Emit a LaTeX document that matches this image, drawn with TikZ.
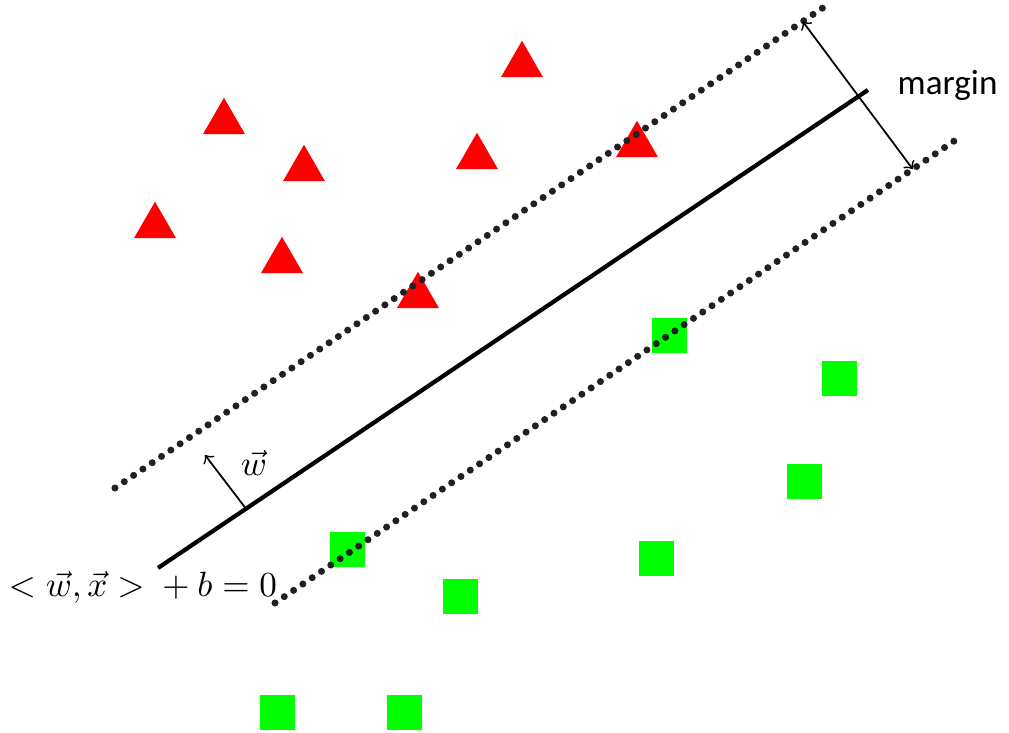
\documentclass[tikz,border=0pt]{standalone}
\usepackage{amsmath}
\usepackage{fontspec}
\newfontfamily\labelfont{Carlito}
\usetikzlibrary{shapes.geometric,calc}
\definecolor{svmRed}{HTML}{FF0000}
\definecolor{svmGreen}{HTML}{00FF00}
\definecolor{svmDot}{HTML}{202020}

\begin{document}
\begin{tikzpicture}[
  redtri/.style={regular polygon,regular polygon sides=3,fill=svmRed,inner sep=0pt,minimum size=0.485cm},
  greensq/.style={rectangle,fill=svmGreen,inner sep=0pt,minimum size=0.35cm},
  marginline/.style={svmDot,line width=2pt,line cap=round,dash pattern=on 0pt off 3.2pt}]
\useasboundingbox (0,0) rectangle (10.09,7.33);
% class +1
\node[redtri] (t1) at (5.22,6.68) {};
\node[redtri] (t2) at (2.24,6.11) {};
\node[redtri] (t3) at (3.04,5.64) {};
\node[redtri] (t4) at (4.77,5.76) {};
\node[redtri] (t5) at (6.37,5.88) {};
\node[redtri] (t6) at (1.55,5.07) {};
\node[redtri] (t7) at (2.82,4.72) {};
\node[redtri] (t8) at (4.18,4.37) {};
% class -1
\node[greensq] (s1) at (6.70,3.97) {};
\node[greensq] (s2) at (8.40,3.54) {};
\node[greensq] (s3) at (8.05,2.51) {};
\node[greensq] (s4) at (3.48,1.83) {};
\node[greensq] (s5) at (6.57,1.74) {};
\node[greensq] (s6) at (4.61,1.36) {};
\node[greensq] (s7) at (2.775,0.205) {};
\node[greensq] (s8) at (4.045,0.205) {};
% hyperplane and margins
\coordinate (hypA) at (1.58,1.65);
\coordinate (hypB) at (8.68,6.43);
\coordinate (upA) at (1.15,2.45);
\coordinate (upB) at (8.24,7.26);
\coordinate (loA) at (2.75,1.30);
\coordinate (loB) at (9.63,5.98);
\draw[line width=1.2pt] (hypA) -- (hypB);
\draw[marginline] (upA) -- (upB);
\draw[marginline] (loA) -- (loB);
% margin width
\coordinate (mUp) at ($(upA)!0.970!(upB)$);
\coordinate (mLo) at ($(loA)!0.927!(loB)$);
\draw[<->,line width=0.5pt] (mUp) -- (mLo);
\node[anchor=base west,inner sep=0pt] (marginlbl) at (8.97,6.38) {\labelfont margin};
% normal vector
\coordinate (wBase) at ($(hypA)!0.124!(hypB)$);
\coordinate (wTip) at (2.05,2.78);
\draw[->,line width=0.5pt] (wBase) -- (wTip);
\node (wlbl) at (2.54,2.70) {$\vec{w}$};
\node[anchor=base west,inner sep=0pt] (eqlbl) at (0.08,1.36) {\fontsize{9.6}{11}\selectfont$<\vec{w},\vec{x}> {}+ b = 0$};
\end{tikzpicture}
\end{document}
